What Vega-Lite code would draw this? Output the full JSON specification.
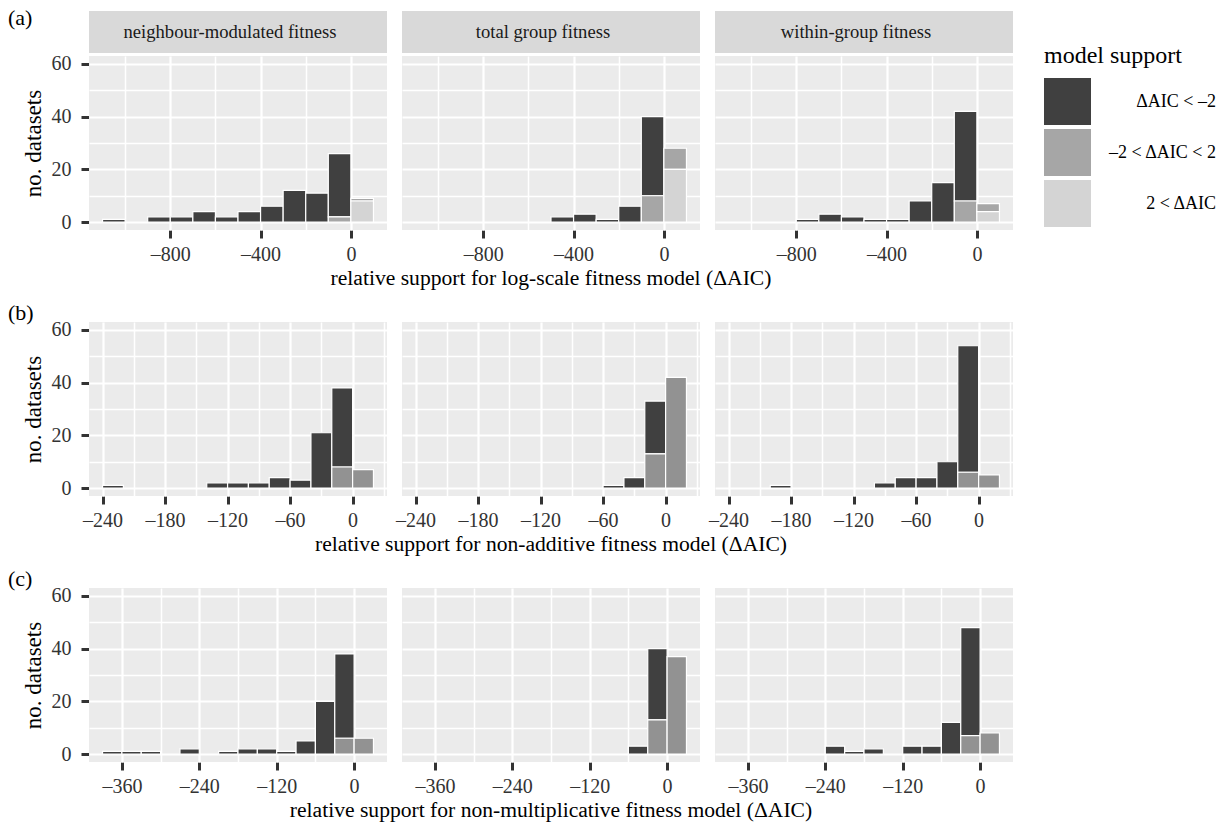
{
  "$schema": "https://vega.github.io/schema/vega-lite/v6.json",
  "background": "white",
  "padding": {"left": 8, "top": 7, "right": 5, "bottom": 0},
  "config": {
    "font": "Liberation Serif",
    "view": {"fill": "#ebebeb", "stroke": null},
    "axis": {
      "domain": false,
      "tickColor": "#333333",
      "tickWidth": 3,
      "tickSize": 8,
      "labelColor": "#333333",
      "labelFont": "Liberation Serif",
      "labelFontSize": 20,
      "titleFont": "Liberation Serif",
      "titleFontSize": 23,
      "titleFontWeight": "normal",
      "titleColor": "#000000",
      "gridColor": "#ffffff",
      "gridOpacity": 1,
      "labelFlush": false
    },
    "header": {
      "labels": false,
      "titleOrient": "bottom",
      "titleFont": "Liberation Serif",
      "titleFontSize": 21.6,
      "titleFontWeight": "normal",
      "titleColor": "#000000",
      "titlePadding": -6
    },
    "title": {"font": "Liberation Serif", "fontSize": 22, "fontWeight": "normal", "anchor": "start", "frame": "bounds", "color": "#000000"},
    "legend": {
      "titleFont": "Liberation Serif",
      "titleFontSize": 24,
      "titleFontWeight": "normal",
      "titleColor": "#000000",
      "labelFont": "Liberation Serif",
      "labelFontSize": 18,
      "labelColor": "#000000",
      "symbolType": "square",
      "symbolSize": 2209,
      "symbolStrokeWidth": 0,
      "symbolOpacity": 1,
      "labelAlign": "right",
      "labelOffset": 125,
      "rowPadding": 4,
      "titlePadding": 10,
      "padding": 33,
      "offset": -2
    }
  },
  "datasets": {
    "panels": [
      {"f": "neighbour-modulated fitness"},
      {"f": "total group fitness"},
      {"f": "within-group fitness"}
    ],
    "bars": [
      {"m": "a", "f": "neighbour-modulated fitness", "x0": -1100, "x1": -1000, "s": "ΔAIC < –2", "lvl": 1, "n": 1},
      {"m": "a", "f": "neighbour-modulated fitness", "x0": -900, "x1": -800, "s": "ΔAIC < –2", "lvl": 1, "n": 2},
      {"m": "a", "f": "neighbour-modulated fitness", "x0": -800, "x1": -700, "s": "ΔAIC < –2", "lvl": 1, "n": 2},
      {"m": "a", "f": "neighbour-modulated fitness", "x0": -700, "x1": -600, "s": "ΔAIC < –2", "lvl": 1, "n": 4},
      {"m": "a", "f": "neighbour-modulated fitness", "x0": -600, "x1": -500, "s": "ΔAIC < –2", "lvl": 1, "n": 2},
      {"m": "a", "f": "neighbour-modulated fitness", "x0": -500, "x1": -400, "s": "ΔAIC < –2", "lvl": 1, "n": 4},
      {"m": "a", "f": "neighbour-modulated fitness", "x0": -400, "x1": -300, "s": "ΔAIC < –2", "lvl": 1, "n": 6},
      {"m": "a", "f": "neighbour-modulated fitness", "x0": -300, "x1": -200, "s": "ΔAIC < –2", "lvl": 1, "n": 12},
      {"m": "a", "f": "neighbour-modulated fitness", "x0": -200, "x1": -100, "s": "ΔAIC < –2", "lvl": 1, "n": 11},
      {"m": "a", "f": "neighbour-modulated fitness", "x0": -100, "x1": 0, "s": "ΔAIC < –2", "lvl": 1, "n": 24},
      {"m": "a", "f": "neighbour-modulated fitness", "x0": -100, "x1": 0, "s": "–2 < ΔAIC < 2", "lvl": 2, "n": 2},
      {"m": "a", "f": "neighbour-modulated fitness", "x0": 0, "x1": 100, "s": "–2 < ΔAIC < 2", "lvl": 2, "n": 1},
      {"m": "a", "f": "neighbour-modulated fitness", "x0": 0, "x1": 100, "s": "2 < ΔAIC", "lvl": 3, "n": 8},

      {"m": "a", "f": "total group fitness", "x0": -500, "x1": -400, "s": "ΔAIC < –2", "lvl": 1, "n": 2},
      {"m": "a", "f": "total group fitness", "x0": -400, "x1": -300, "s": "ΔAIC < –2", "lvl": 1, "n": 3},
      {"m": "a", "f": "total group fitness", "x0": -300, "x1": -200, "s": "ΔAIC < –2", "lvl": 1, "n": 1},
      {"m": "a", "f": "total group fitness", "x0": -200, "x1": -100, "s": "ΔAIC < –2", "lvl": 1, "n": 6},
      {"m": "a", "f": "total group fitness", "x0": -100, "x1": 0, "s": "ΔAIC < –2", "lvl": 1, "n": 30},
      {"m": "a", "f": "total group fitness", "x0": -100, "x1": 0, "s": "–2 < ΔAIC < 2", "lvl": 2, "n": 10},
      {"m": "a", "f": "total group fitness", "x0": 0, "x1": 100, "s": "–2 < ΔAIC < 2", "lvl": 2, "n": 8},
      {"m": "a", "f": "total group fitness", "x0": 0, "x1": 100, "s": "2 < ΔAIC", "lvl": 3, "n": 20},

      {"m": "a", "f": "within-group fitness", "x0": -800, "x1": -700, "s": "ΔAIC < –2", "lvl": 1, "n": 1},
      {"m": "a", "f": "within-group fitness", "x0": -700, "x1": -600, "s": "ΔAIC < –2", "lvl": 1, "n": 3},
      {"m": "a", "f": "within-group fitness", "x0": -600, "x1": -500, "s": "ΔAIC < –2", "lvl": 1, "n": 2},
      {"m": "a", "f": "within-group fitness", "x0": -500, "x1": -400, "s": "ΔAIC < –2", "lvl": 1, "n": 1},
      {"m": "a", "f": "within-group fitness", "x0": -400, "x1": -300, "s": "ΔAIC < –2", "lvl": 1, "n": 1},
      {"m": "a", "f": "within-group fitness", "x0": -300, "x1": -200, "s": "ΔAIC < –2", "lvl": 1, "n": 8},
      {"m": "a", "f": "within-group fitness", "x0": -200, "x1": -100, "s": "ΔAIC < –2", "lvl": 1, "n": 15},
      {"m": "a", "f": "within-group fitness", "x0": -100, "x1": 0, "s": "ΔAIC < –2", "lvl": 1, "n": 34},
      {"m": "a", "f": "within-group fitness", "x0": -100, "x1": 0, "s": "–2 < ΔAIC < 2", "lvl": 2, "n": 8},
      {"m": "a", "f": "within-group fitness", "x0": 0, "x1": 100, "s": "–2 < ΔAIC < 2", "lvl": 2, "n": 3},
      {"m": "a", "f": "within-group fitness", "x0": 0, "x1": 100, "s": "2 < ΔAIC", "lvl": 3, "n": 4},

      {"m": "b", "f": "neighbour-modulated fitness", "x0": -240, "x1": -220, "s": "ΔAIC < –2", "lvl": 1, "n": 1},
      {"m": "b", "f": "neighbour-modulated fitness", "x0": -140, "x1": -120, "s": "ΔAIC < –2", "lvl": 1, "n": 2},
      {"m": "b", "f": "neighbour-modulated fitness", "x0": -120, "x1": -100, "s": "ΔAIC < –2", "lvl": 1, "n": 2},
      {"m": "b", "f": "neighbour-modulated fitness", "x0": -100, "x1": -80, "s": "ΔAIC < –2", "lvl": 1, "n": 2},
      {"m": "b", "f": "neighbour-modulated fitness", "x0": -80, "x1": -60, "s": "ΔAIC < –2", "lvl": 1, "n": 4},
      {"m": "b", "f": "neighbour-modulated fitness", "x0": -60, "x1": -40, "s": "ΔAIC < –2", "lvl": 1, "n": 3},
      {"m": "b", "f": "neighbour-modulated fitness", "x0": -40, "x1": -20, "s": "ΔAIC < –2", "lvl": 1, "n": 21},
      {"m": "b", "f": "neighbour-modulated fitness", "x0": -20, "x1": 0, "s": "ΔAIC < –2", "lvl": 1, "n": 30},
      {"m": "b", "f": "neighbour-modulated fitness", "x0": -20, "x1": 0, "s": "–2 < ΔAIC < 2", "lvl": 2, "n": 8},
      {"m": "b", "f": "neighbour-modulated fitness", "x0": 0, "x1": 20, "s": "–2 < ΔAIC < 2", "lvl": 2, "n": 7},

      {"m": "b", "f": "total group fitness", "x0": -60, "x1": -40, "s": "ΔAIC < –2", "lvl": 1, "n": 1},
      {"m": "b", "f": "total group fitness", "x0": -40, "x1": -20, "s": "ΔAIC < –2", "lvl": 1, "n": 4},
      {"m": "b", "f": "total group fitness", "x0": -20, "x1": 0, "s": "ΔAIC < –2", "lvl": 1, "n": 20},
      {"m": "b", "f": "total group fitness", "x0": -20, "x1": 0, "s": "–2 < ΔAIC < 2", "lvl": 2, "n": 13},
      {"m": "b", "f": "total group fitness", "x0": 0, "x1": 20, "s": "–2 < ΔAIC < 2", "lvl": 2, "n": 42},

      {"m": "b", "f": "within-group fitness", "x0": -200, "x1": -180, "s": "ΔAIC < –2", "lvl": 1, "n": 1},
      {"m": "b", "f": "within-group fitness", "x0": -100, "x1": -80, "s": "ΔAIC < –2", "lvl": 1, "n": 2},
      {"m": "b", "f": "within-group fitness", "x0": -80, "x1": -60, "s": "ΔAIC < –2", "lvl": 1, "n": 4},
      {"m": "b", "f": "within-group fitness", "x0": -60, "x1": -40, "s": "ΔAIC < –2", "lvl": 1, "n": 4},
      {"m": "b", "f": "within-group fitness", "x0": -40, "x1": -20, "s": "ΔAIC < –2", "lvl": 1, "n": 10},
      {"m": "b", "f": "within-group fitness", "x0": -20, "x1": 0, "s": "ΔAIC < –2", "lvl": 1, "n": 48},
      {"m": "b", "f": "within-group fitness", "x0": -20, "x1": 0, "s": "–2 < ΔAIC < 2", "lvl": 2, "n": 6},
      {"m": "b", "f": "within-group fitness", "x0": 0, "x1": 20, "s": "–2 < ΔAIC < 2", "lvl": 2, "n": 5},

      {"m": "c", "f": "neighbour-modulated fitness", "x0": -390, "x1": -360, "s": "ΔAIC < –2", "lvl": 1, "n": 1},
      {"m": "c", "f": "neighbour-modulated fitness", "x0": -360, "x1": -330, "s": "ΔAIC < –2", "lvl": 1, "n": 1},
      {"m": "c", "f": "neighbour-modulated fitness", "x0": -330, "x1": -300, "s": "ΔAIC < –2", "lvl": 1, "n": 1},
      {"m": "c", "f": "neighbour-modulated fitness", "x0": -270, "x1": -240, "s": "ΔAIC < –2", "lvl": 1, "n": 2},
      {"m": "c", "f": "neighbour-modulated fitness", "x0": -210, "x1": -180, "s": "ΔAIC < –2", "lvl": 1, "n": 1},
      {"m": "c", "f": "neighbour-modulated fitness", "x0": -180, "x1": -150, "s": "ΔAIC < –2", "lvl": 1, "n": 2},
      {"m": "c", "f": "neighbour-modulated fitness", "x0": -150, "x1": -120, "s": "ΔAIC < –2", "lvl": 1, "n": 2},
      {"m": "c", "f": "neighbour-modulated fitness", "x0": -120, "x1": -90, "s": "ΔAIC < –2", "lvl": 1, "n": 1},
      {"m": "c", "f": "neighbour-modulated fitness", "x0": -90, "x1": -60, "s": "ΔAIC < –2", "lvl": 1, "n": 5},
      {"m": "c", "f": "neighbour-modulated fitness", "x0": -60, "x1": -30, "s": "ΔAIC < –2", "lvl": 1, "n": 20},
      {"m": "c", "f": "neighbour-modulated fitness", "x0": -30, "x1": 0, "s": "ΔAIC < –2", "lvl": 1, "n": 32},
      {"m": "c", "f": "neighbour-modulated fitness", "x0": -30, "x1": 0, "s": "–2 < ΔAIC < 2", "lvl": 2, "n": 6},
      {"m": "c", "f": "neighbour-modulated fitness", "x0": 0, "x1": 30, "s": "–2 < ΔAIC < 2", "lvl": 2, "n": 6},

      {"m": "c", "f": "total group fitness", "x0": -60, "x1": -30, "s": "ΔAIC < –2", "lvl": 1, "n": 3},
      {"m": "c", "f": "total group fitness", "x0": -30, "x1": 0, "s": "ΔAIC < –2", "lvl": 1, "n": 27},
      {"m": "c", "f": "total group fitness", "x0": -30, "x1": 0, "s": "–2 < ΔAIC < 2", "lvl": 2, "n": 13},
      {"m": "c", "f": "total group fitness", "x0": 0, "x1": 30, "s": "–2 < ΔAIC < 2", "lvl": 2, "n": 37},

      {"m": "c", "f": "within-group fitness", "x0": -240, "x1": -210, "s": "ΔAIC < –2", "lvl": 1, "n": 3},
      {"m": "c", "f": "within-group fitness", "x0": -210, "x1": -180, "s": "ΔAIC < –2", "lvl": 1, "n": 1},
      {"m": "c", "f": "within-group fitness", "x0": -180, "x1": -150, "s": "ΔAIC < –2", "lvl": 1, "n": 2},
      {"m": "c", "f": "within-group fitness", "x0": -120, "x1": -90, "s": "ΔAIC < –2", "lvl": 1, "n": 3},
      {"m": "c", "f": "within-group fitness", "x0": -90, "x1": -60, "s": "ΔAIC < –2", "lvl": 1, "n": 3},
      {"m": "c", "f": "within-group fitness", "x0": -60, "x1": -30, "s": "ΔAIC < –2", "lvl": 1, "n": 12},
      {"m": "c", "f": "within-group fitness", "x0": -30, "x1": 0, "s": "ΔAIC < –2", "lvl": 1, "n": 41},
      {"m": "c", "f": "within-group fitness", "x0": -30, "x1": 0, "s": "–2 < ΔAIC < 2", "lvl": 2, "n": 7},
      {"m": "c", "f": "within-group fitness", "x0": 0, "x1": 30, "s": "–2 < ΔAIC < 2", "lvl": 2, "n": 8}
    ]
  },
  "resolve": {"scale": {"color": "independent"}},
  "spacing": 11,
  "vconcat": [
    {
      "title": {"text": "(a)", "offset": -19, "dx": -14},
      "spacing": 0,
      "vconcat": [
        {
          "data": {"name": "panels"},
          "facet": {"column": {"field": "f", "type": "nominal", "header": null}},
          "spacing": 15,
          "spec": {
            "width": 298,
            "height": 42,
            "view": {"fill": "#d9d9d9", "stroke": null},
            "mark": {"type": "text", "fontSize": 18.6, "color": "#1a1a1a", "font": "Liberation Serif", "dx": -8},
            "encoding": {"text": {"field": "f", "type": "nominal"}}
          }
        },
        {
          "data": {"name": "bars"},
          "transform": [
            {"filter": "datum.m === 'a'"},
            {"stack": "n", "groupby": ["f", "x0"], "sort": [{"field": "lvl", "order": "descending"}], "as": ["y0", "y1"]}
          ],
          "facet": {"column": {"field": "f", "type": "nominal", "title": "relative support for log-scale fitness model (ΔAIC)"}},
          "spacing": 15,
          "spec": {
            "width": 298,
            "height": 174,
            "mark": {"type": "bar", "stroke": "#ffffff", "strokeWidth": 1.2},
            "encoding": {
              "x": {
                "field": "x0", "type": "quantitative",
                "scale": {"domain": [-1160, 160], "nice": false, "zero": false},
                "axis": {
                  "values": [-1000, -800, -600, -400, -200, 0],
                  "labelExpr": "datum.value % 400 === 0 ? (datum.value < 0 ? '–' + toString(-datum.value) : toString(datum.value)) : ''",
                  "tickOpacity": {"condition": {"test": "datum.value % 400 === 0", "value": 1}, "value": 0},
                  "gridWidth": {"condition": {"test": "datum.value % 400 === 0", "value": 2.2}, "value": 1.5},
                  "title": null,
                  "labelPadding": 6
                }
              },
              "x2": {"field": "x1"},
              "y": {
                "field": "y0", "type": "quantitative",
                "scale": {"domain": [-3, 63], "nice": false},
                "axis": {
                  "values": [0, 10, 20, 30, 40, 50, 60],
                  "labelExpr": "datum.value % 20 === 0 ? toString(datum.value) : ''",
                  "tickOpacity": {"condition": {"test": "datum.value % 20 === 0", "value": 1}, "value": 0},
                  "gridWidth": {"condition": {"test": "datum.value % 20 === 0", "value": 2.2}, "value": 1.5},
                  "title": "no. datasets",
                  "labelPadding": 10,
                  "titlePadding": 6
                }
              },
              "y2": {"field": "y1"},
              "color": {
                "field": "s", "type": "nominal", "title": "model support",
                "scale": {"domain": ["ΔAIC < –2", "–2 < ΔAIC < 2", "2 < ΔAIC"], "range": ["#404040", "#a6a6a6", "#d4d4d4"]}
              }
            }
          }
        }
      ]
    },
    {
      "title": {"text": "(b)", "offset": -5, "dx": -14},
      "data": {"name": "bars"},
      "transform": [
        {"filter": "datum.m === 'b'"},
        {"stack": "n", "groupby": ["f", "x0"], "sort": [{"field": "lvl", "order": "descending"}], "as": ["y0", "y1"]}
      ],
      "facet": {"column": {"field": "f", "type": "nominal", "title": "relative support for non-additive fitness model (ΔAIC)"}},
      "spacing": 15,
      "spec": {
        "width": 298,
        "height": 174,
        "mark": {"type": "bar", "stroke": "#ffffff", "strokeWidth": 1.2},
        "encoding": {
          "x": {
            "field": "x0", "type": "quantitative",
            "scale": {"domain": [-253, 33], "nice": false, "zero": false},
            "axis": {
              "values": [-240, -210, -180, -150, -120, -90, -60, -30, 0, 30],
              "labelExpr": "datum.value % 60 === 0 ? (datum.value < 0 ? '–' + toString(-datum.value) : toString(datum.value)) : ''",
              "tickOpacity": {"condition": {"test": "datum.value % 60 === 0", "value": 1}, "value": 0},
              "gridWidth": {"condition": {"test": "datum.value % 60 === 0", "value": 2.2}, "value": 1.5},
              "title": null,
              "labelPadding": 6
            }
          },
          "x2": {"field": "x1"},
          "y": {
            "field": "y0", "type": "quantitative",
            "scale": {"domain": [-3, 63], "nice": false},
            "axis": {
              "values": [0, 10, 20, 30, 40, 50, 60],
              "labelExpr": "datum.value % 20 === 0 ? toString(datum.value) : ''",
              "tickOpacity": {"condition": {"test": "datum.value % 20 === 0", "value": 1}, "value": 0},
              "gridWidth": {"condition": {"test": "datum.value % 20 === 0", "value": 2.2}, "value": 1.5},
              "title": "no. datasets",
              "labelPadding": 10,
              "titlePadding": 6
            }
          },
          "y2": {"field": "y1"},
          "color": {
            "field": "s", "type": "nominal", "legend": null,
            "scale": {"domain": ["ΔAIC < –2", "–2 < ΔAIC < 2", "2 < ΔAIC"], "range": ["#404040", "#929292", "#d4d4d4"]}
          }
        }
      }
    },
    {
      "title": {"text": "(c)", "offset": -5, "dx": -14},
      "data": {"name": "bars"},
      "transform": [
        {"filter": "datum.m === 'c'"},
        {"stack": "n", "groupby": ["f", "x0"], "sort": [{"field": "lvl", "order": "descending"}], "as": ["y0", "y1"]}
      ],
      "facet": {"column": {"field": "f", "type": "nominal", "title": "relative support for non-multiplicative fitness model (ΔAIC)"}},
      "spacing": 15,
      "spec": {
        "width": 298,
        "height": 174,
        "mark": {"type": "bar", "stroke": "#ffffff", "strokeWidth": 1.2},
        "encoding": {
          "x": {
            "field": "x0", "type": "quantitative",
            "scale": {"domain": [-411, 51], "nice": false, "zero": false},
            "axis": {
              "values": [-360, -300, -240, -180, -120, -60, 0],
              "labelExpr": "datum.value % 120 === 0 ? (datum.value < 0 ? '–' + toString(-datum.value) : toString(datum.value)) : ''",
              "tickOpacity": {"condition": {"test": "datum.value % 120 === 0", "value": 1}, "value": 0},
              "gridWidth": {"condition": {"test": "datum.value % 120 === 0", "value": 2.2}, "value": 1.5},
              "title": null,
              "labelPadding": 6
            }
          },
          "x2": {"field": "x1"},
          "y": {
            "field": "y0", "type": "quantitative",
            "scale": {"domain": [-3, 63], "nice": false},
            "axis": {
              "values": [0, 10, 20, 30, 40, 50, 60],
              "labelExpr": "datum.value % 20 === 0 ? toString(datum.value) : ''",
              "tickOpacity": {"condition": {"test": "datum.value % 20 === 0", "value": 1}, "value": 0},
              "gridWidth": {"condition": {"test": "datum.value % 20 === 0", "value": 2.2}, "value": 1.5},
              "title": "no. datasets",
              "labelPadding": 10,
              "titlePadding": 6
            }
          },
          "y2": {"field": "y1"},
          "color": {
            "field": "s", "type": "nominal", "legend": null,
            "scale": {"domain": ["ΔAIC < –2", "–2 < ΔAIC < 2", "2 < ΔAIC"], "range": ["#404040", "#929292", "#d4d4d4"]}
          }
        }
      }
    }
  ]
}
